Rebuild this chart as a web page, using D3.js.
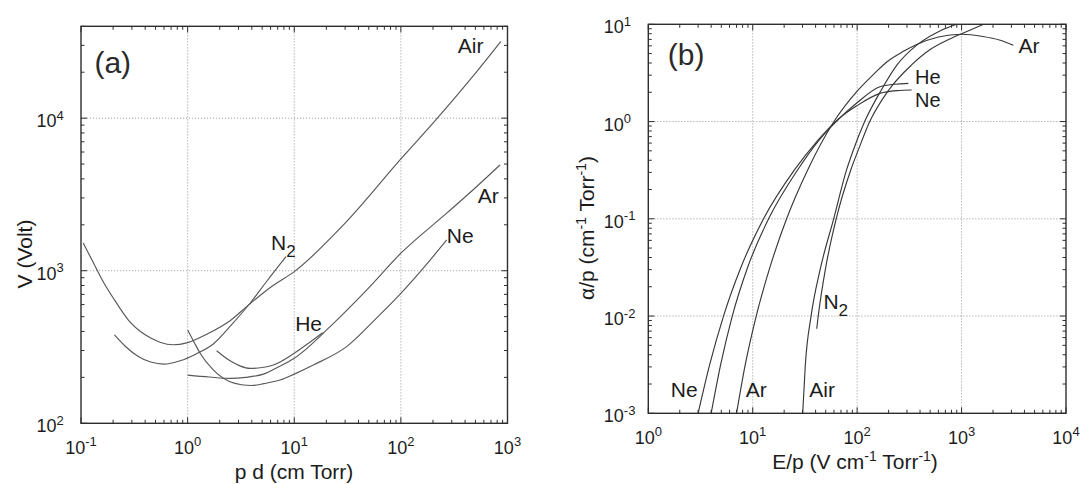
<!DOCTYPE html>
<html><head><meta charset="utf-8">
<script src="https://cdn.jsdelivr.net/npm/d3@7"></script>
<style>
body{margin:0;background:#fff;}
svg{display:block;font-family:"Liberation Sans",Arial,Helvetica,sans-serif;}
</style>
</head><body>
<svg id="chart" width="1082" height="484"></svg>
<script>
// ---- tick exponents (labels are 10^exp) ----
const aXExps = [-1, 0, 1, 2, 3];
const aYExps = [2, 3, 4];
const bXExps = [0, 1, 2, 3, 4];
const bYExps = [-3, -2, -1, 0, 1];

// ---- panel (a): breakdown voltage V (Volt) vs p d (cm Torr) ----
const aAir = [[0.105,1520],[0.131,1122],[0.164,830],[0.206,644],[0.277,477],[0.40,380],[0.55,340],[0.73,327],[1.0,338],[1.53,385],[2.5,470],[3.58,582],[6,780],[10,986],[30,2050],[100,5400],[220,10000],[450,18000],[865,31800]];
const aN2  = [[0.206,380],[0.26,320],[0.345,274],[0.45,252],[0.60,244],[0.85,257],[1.2,285],[1.74,331],[2.6,445],[3.85,612],[5.5,850],[8.37,1236]];
const aHe  = [[1.87,299],[2.5,257],[3.1,238],[3.85,229],[5,232],[6.37,241],[10,288],[14,340],[18.5,393]];
const aNe  = [[1.0,409],[1.15,340],[1.31,288],[1.74,224],[2.5,187],[3.2,179],[3.99,177],[5.2,182],[7.36,192],[10,210],[15.1,241],[31,318],[60,495],[100,711],[170,1080],[269,1592]];
const aAr  = [[1.0,207],[1.6,201],[2.5,197],[3.5,200],[5.13,210],[7,233],[10,267],[21.7,430],[47.9,748],[100,1303],[269,2383],[500,3500],[851,4940]];

// ---- panel (b): alpha/p (cm^-1 Torr^-1) vs E/p (V cm^-1 Torr^-1) ----
const bNe  = [[3.0,0.001],[3.87,0.00316],[5.25,0.01],[7.7,0.0316],[12.7,0.1],[25,0.316],[42,0.64],[62,1.0],[99,1.45],[165,1.95],[240,2.08],[333,2.11]];
const bHe  = [[4.0,0.001],[4.93,0.00316],[6.37,0.01],[8.93,0.0316],[14.2,0.1],[26.8,0.316],[44,0.66],[63,1.0],[99,1.55],[165,2.28],[230,2.42],[309,2.47]];
const bAr  = [[7.0,0.001],[8.48,0.00316],[10.8,0.01],[14.6,0.0316],[21.1,0.1],[33.5,0.316],[60,1.0],[100,2.05],[150,3.2],[192,4.1],[280,5.3],[372,6.2],[600,7.4],[1000,7.9],[1600,7.5],[2300,6.9],[3127,6.1]];
const bAir = [[30.1,0.001],[31.9,0.00316],[36.2,0.01],[44.7,0.0316],[59.6,0.1],[79,0.316],[92,0.51],[118,1.0],[170,2.1],[240,3.8],[372,6.1],[600,8.4],[900,10]];
const bN2  = [[41,0.0074],[42.4,0.01],[50,0.0316],[63,0.1],[86.7,0.316],[104,0.53],[132,1.0],[200,2.1],[330,3.8],[500,5.5],[800,7.2],[1000,8.0],[1618,10]];

// ---- curve labels: [text, subscript, x, y, fontSize] in data coordinates ----
const aLabels = [["Air","",342,26700,21],["Ar","",526,2773,21],["Ne","",270,1514,21],["N","2",6.05,1368,21],["He","",10.2,405,21]];
const bLabels = [["He","",359,2.45,20],["Ne","",359,1.42,20],["Ar","",3516,5.08,21],["N","2",47.5,0.01173,21],["Ne","",1.64,0.00148,21],["Ar","",8.57,0.00148,21],["Air","",34.8,0.00148,21]];
const aTag = ["(a)", 0.1337, 19900];
const bTag = ["(b)", 1.535, 3.83];

const svg = d3.select("#chart");
const TXT = "#1c1c1c";

function drawPanel(cfg) {
  const { x, y, xExps, yExps, series, labels, tag, lineColor, id } = cfg;
  const [x0, x1] = x.range();
  const [yb, yt] = y.range();
  const g = svg.append("g");

  g.append("clipPath").attr("id", id).append("rect")
    .attr("x", x0).attr("y", yt).attr("width", x1 - x0).attr("height", yb - yt);

  // grid (decades)
  xExps.forEach(e => {
    const px = x(Math.pow(10, e));
    if (px > x0 + 1 && px < x1 - 1)
      g.append("line").attr("x1", px).attr("x2", px).attr("y1", yt).attr("y2", yb)
        .attr("stroke", "#9c9c9c").attr("stroke-width", 0.9).attr("stroke-dasharray", "1.2,1.8");
  });
  yExps.forEach(e => {
    const py = y(Math.pow(10, e));
    if (py < yb - 1 && py > yt + 1)
      g.append("line").attr("x1", x0).attr("x2", x1).attr("y1", py).attr("y2", py)
        .attr("stroke", "#9c9c9c").attr("stroke-width", 0.9).attr("stroke-dasharray", "1.2,1.8");
  });

  // curves
  const line = d3.line().x(d => x(d[0])).y(d => y(d[1])).curve(d3.curveMonotoneX);
  series.forEach(s => {
    g.append("path").attr("d", line(s)).attr("fill", "none")
      .attr("stroke", lineColor).attr("stroke-width", 1.15)
      .attr("clip-path", `url(#${id})`);
  });

  // frame
  g.append("rect").attr("x", x0).attr("y", yt).attr("width", x1 - x0).attr("height", yb - yt)
    .attr("fill", "none").attr("stroke", "#2e2e2e").attr("stroke-width", 1.4);

  // ticks (major + minor, mirrored, inward)
  const tick = (px, py, dx, dy) => g.append("line")
    .attr("x1", px).attr("y1", py).attr("x2", px + dx).attr("y2", py + dy)
    .attr("stroke", "#2e2e2e").attr("stroke-width", 1);
  const logTicks = (scale) => {
    const [d0, d1] = scale.domain();
    const out = [];
    for (let e = Math.floor(Math.log10(d0)); e <= Math.ceil(Math.log10(d1)); e++) {
      for (let m = 1; m <= 9; m++) {
        const v = m * Math.pow(10, e);
        if (v >= d0 * 0.9999 && v <= d1 * 1.0001) out.push([v, m === 1]);
      }
    }
    return out;
  };
  logTicks(x).forEach(([v, major]) => {
    const px = x(v), L = major ? 6 : 3.5;
    tick(px, yb, 0, -L); tick(px, yt, 0, L);
  });
  logTicks(y).forEach(([v, major]) => {
    const py = y(v), L = major ? 6 : 3.5;
    tick(x0, py, L, 0); tick(x1, py, -L, 0);
  });

  // x tick labels
  xExps.forEach(e => {
    const t = g.append("text").attr("x", x(Math.pow(10, e))).attr("y", yb + 30.5)
      .attr("text-anchor", "middle").attr("font-size", 18).attr("fill", TXT);
    t.append("tspan").text("10");
    t.append("tspan").attr("dy", -7.5).attr("font-size", 13).text(String(e));
  });
  // y tick labels
  yExps.forEach(e => {
    const py = y(Math.pow(10, e));
    g.append("text").attr("x", x0 - 24.5).attr("y", py + 9).attr("text-anchor", "end")
      .attr("font-size", 18).attr("fill", TXT).text("10");
    g.append("text").attr("x", x0 - 24.5).attr("y", py + 1.5)
      .attr("font-size", 13).attr("fill", TXT).text(String(e));
  });

  // curve labels
  labels.forEach(([txt, sub, lx, ly, fs]) => {
    const t = g.append("text").attr("x", x(lx)).attr("y", y(ly))
      .attr("font-size", fs).attr("fill", TXT);
    t.append("tspan").text(txt);
    if (sub) t.append("tspan").attr("dy", 7).attr("font-size", 17).text(sub);
  });

  // panel tag
  g.append("text").attr("x", x(tag[1])).attr("y", y(tag[2]))
    .attr("font-size", 30).attr("fill", "#2a2a2a").text(tag[0]);
  return g;
}

// panel (a)
const ax = d3.scaleLog().domain([0.1, 1000]).range([81, 507.5]);
const ay = d3.scaleLog().domain([100, 40000]).range([423.3, 26.3]);
drawPanel({ x: ax, y: ay, xExps: aXExps, yExps: aYExps,
  series: [aAir, aN2, aHe, aNe, aAr], labels: aLabels, tag: aTag,
  lineColor: "#585858", id: "clipA" });

// panel (b)
const bx = d3.scaleLog().domain([1, 10000]).range([648.3, 1066]);
const by = d3.scaleLog().domain([0.001, 10]).range([413.3, 24.3]);
drawPanel({ x: bx, y: by, xExps: bXExps, yExps: bYExps,
  series: [bNe, bHe, bAr, bAir, bN2], labels: bLabels, tag: bTag,
  lineColor: "#383838", id: "clipB" });

// axis titles
svg.append("text").attr("x", 294).attr("y", 479).attr("text-anchor", "middle")
  .attr("font-size", 21).attr("fill", TXT).text("p d (cm Torr)");

const bxt = svg.append("text").attr("x", 855).attr("y", 469).attr("text-anchor", "middle")
  .attr("font-size", 21).attr("fill", TXT);
bxt.append("tspan").text("E/p (V cm");
bxt.append("tspan").attr("dy", -8).attr("font-size", 14).text("-1");
bxt.append("tspan").attr("dy", 8).text(" Torr");
bxt.append("tspan").attr("dy", -8).attr("font-size", 14).text("-1");
bxt.append("tspan").attr("dy", 8).text(")");

svg.append("text").attr("transform", "translate(32,254) rotate(-90)")
  .attr("text-anchor", "middle").attr("font-size", 21).attr("fill", TXT).text("V (Volt)");

const byt = svg.append("text").attr("transform", "translate(594,228) rotate(-90)")
  .attr("text-anchor", "middle").attr("font-size", 21).attr("fill", TXT);
byt.append("tspan").text("\u03B1/p (cm");
byt.append("tspan").attr("dy", -8).attr("font-size", 14).text("-1");
byt.append("tspan").attr("dy", 8).text(" Torr");
byt.append("tspan").attr("dy", -8).attr("font-size", 14).text("-1");
byt.append("tspan").attr("dy", 8).text(")");
</script>
</body></html>
